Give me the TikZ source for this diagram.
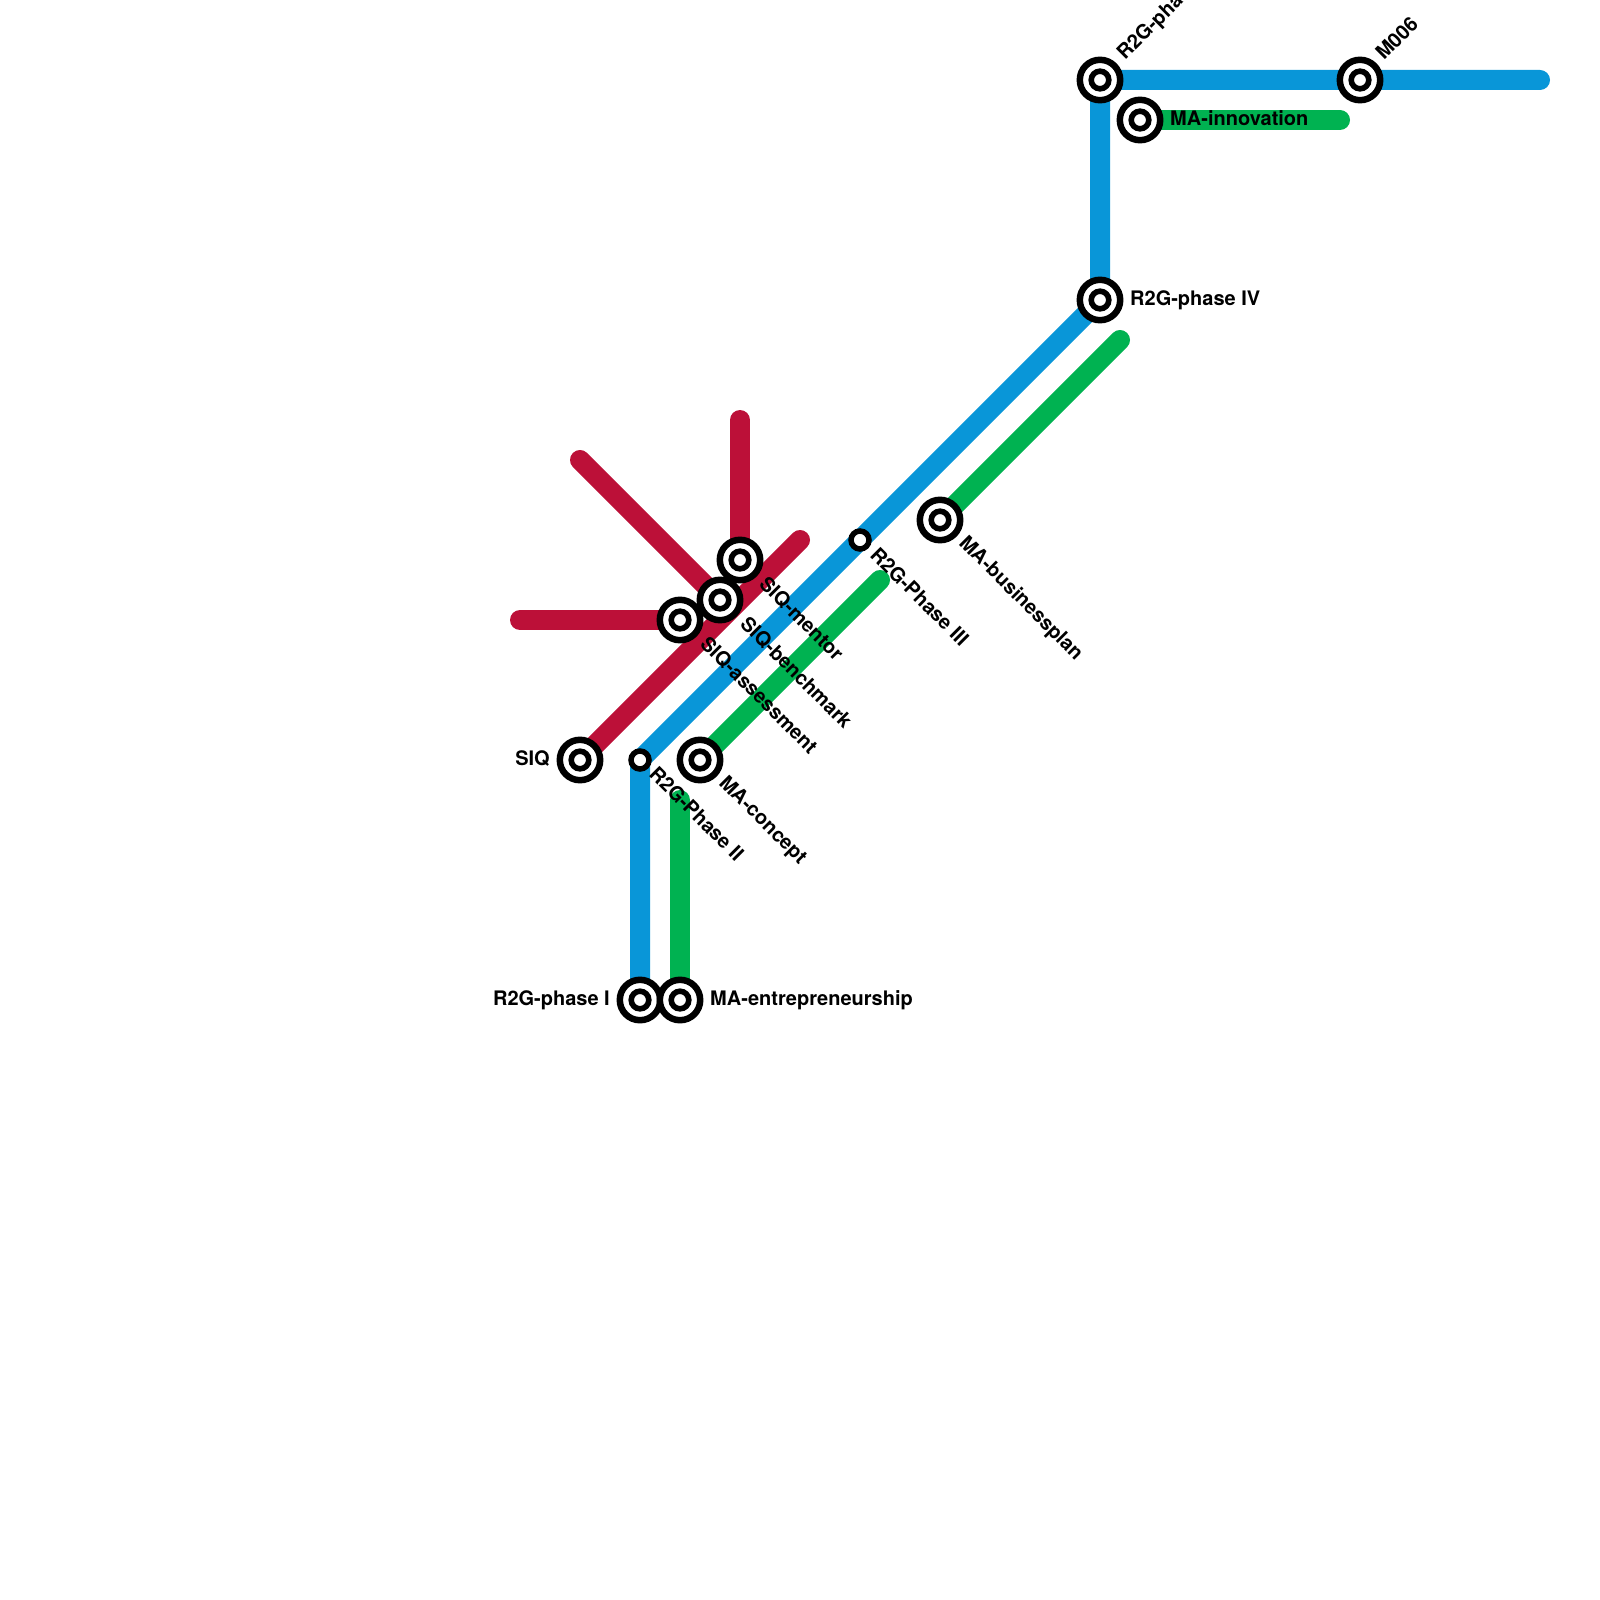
\documentclass[tikz,border=0pt]{standalone}
\usepackage{fontspec}
\setmainfont{TeX Gyre Heros}
\pgfdeclarelayer{lines}
\pgfsetlayers{lines,main}
\definecolor{lblue}{RGB}{9,150,216}
\definecolor{lgreen}{RGB}{0,178,81}
\definecolor{lred}{RGB}{188,16,56}
\tikzset{
  stn/.style={circle,draw=black,line width=6.5pt,fill=white,minimum size=40.4pt,inner sep=0pt,
    path picture={\draw[line width=5.6pt,black] (path picture bounding box.center) circle (8.8pt);}},
  smallstn/.style={circle,draw=black,line width=5.5pt,fill=white,minimum size=18pt,inner sep=0pt},
  route/.style={line width=20pt,line cap=round,line join=round},
  lab/.style={font=\fontsize{20}{22}\selectfont\bfseries,text=black,inner sep=0pt,anchor=base west},
  labr/.style={font=\fontsize{20}{22}\selectfont\bfseries,text=black,inner sep=0pt,anchor=base east},
}
\begin{document}
\begin{tikzpicture}[x=1pt,y=-1pt]
\useasboundingbox (0,0) rectangle (1600,1600);
\clip (0,0) rectangle (1600,1600);
\node[stn] (siq) at (580,760) {};
\node[smallstn] (ph2) at (640,760) {};
\node[stn] (concept) at (700,760) {};
\node[stn] (ph1) at (640,1000) {};
\node[stn] (entre) at (680,1000) {};
\node[stn] (assess) at (680,620) {};
\node[stn] (bench) at (720,600) {};
\node[stn] (mentor) at (740,560) {};
\node[smallstn] (ph3) at (860,540) {};
\node[stn] (bplan) at (940,520) {};
\node[stn] (ph4) at (1100,300) {};
\node[stn] (ph5) at (1100,80) {};
\node[stn] (m6) at (1360,80) {};
\node[stn] (innov) at (1140,120) {};
\coordinate (redA) at (800,540);
\coordinate (redB) at (520,620);
\coordinate (redC) at (580,460);
\coordinate (redD) at (740,420);
\coordinate (blueEnd) at (1540,80);
\coordinate (greenA) at (880,580);
\coordinate (greenB) at (680,800);
\coordinate (greenC) at (1120,340);
\coordinate (greenD) at (1340,120);
\begin{pgfonlayer}{lines}
\draw[route,lred] (siq.center) -- (redA);
\draw[route,lred] (assess.center) -- (redB);
\draw[route,lred] (bench.center) -- (redC);
\draw[route,lred] (mentor.center) -- (redD);
\draw[route,lgreen] (concept.center) -- (greenA);
\draw[route,lgreen] (entre.center) -- (greenB);
\draw[route,lgreen] (bplan.center) -- (greenC);
\draw[route,lgreen] (innov.center) -- (greenD);
\draw[route,lblue] (ph1.center) -- (ph2.center) -- (ph3.center) -- (ph4.center) -- (ph5.center) -- (m6.center) -- (blueEnd);
\end{pgfonlayer}
\node[labr] (tSiq) at (550,765) {SIQ};
\node[labr] (tPh1) at (610,1005) {R2G-phase I};
\node[lab] (tEntre) at (710,1005) {MA-entrepreneurship};
\node[lab] (tIv) at (1130,305) {R2G-phase IV};
\node[lab] (tInnov) at (1170,126) {MA-innovation};
\node[lab,rotate=45] (tPh5) at (1125,61) {R2G-phase V};
\node[lab,rotate=45] (tM6) at (1384,61) {M006};
\node[lab,rotate=-45] (tPh2) at (648,775) {R2G-Phase II};
\node[lab,rotate=-45] (tPh3) at (869,556) {R2G-Phase III};
\node[lab,rotate=-45] (tConcept) at (718,784) {MA-concept};
\node[lab,rotate=-45] (tBplan) at (958,544) {MA-businessplan};
\node[lab,rotate=-45] (tAssess) at (699,645) {SIQ-assessment};
\node[lab,rotate=-45] (tBench) at (739,625) {SIQ-benchmark};
\node[lab,rotate=-45] (tMentor) at (758,585) {SIQ-mentor};
\end{tikzpicture}
\end{document}
